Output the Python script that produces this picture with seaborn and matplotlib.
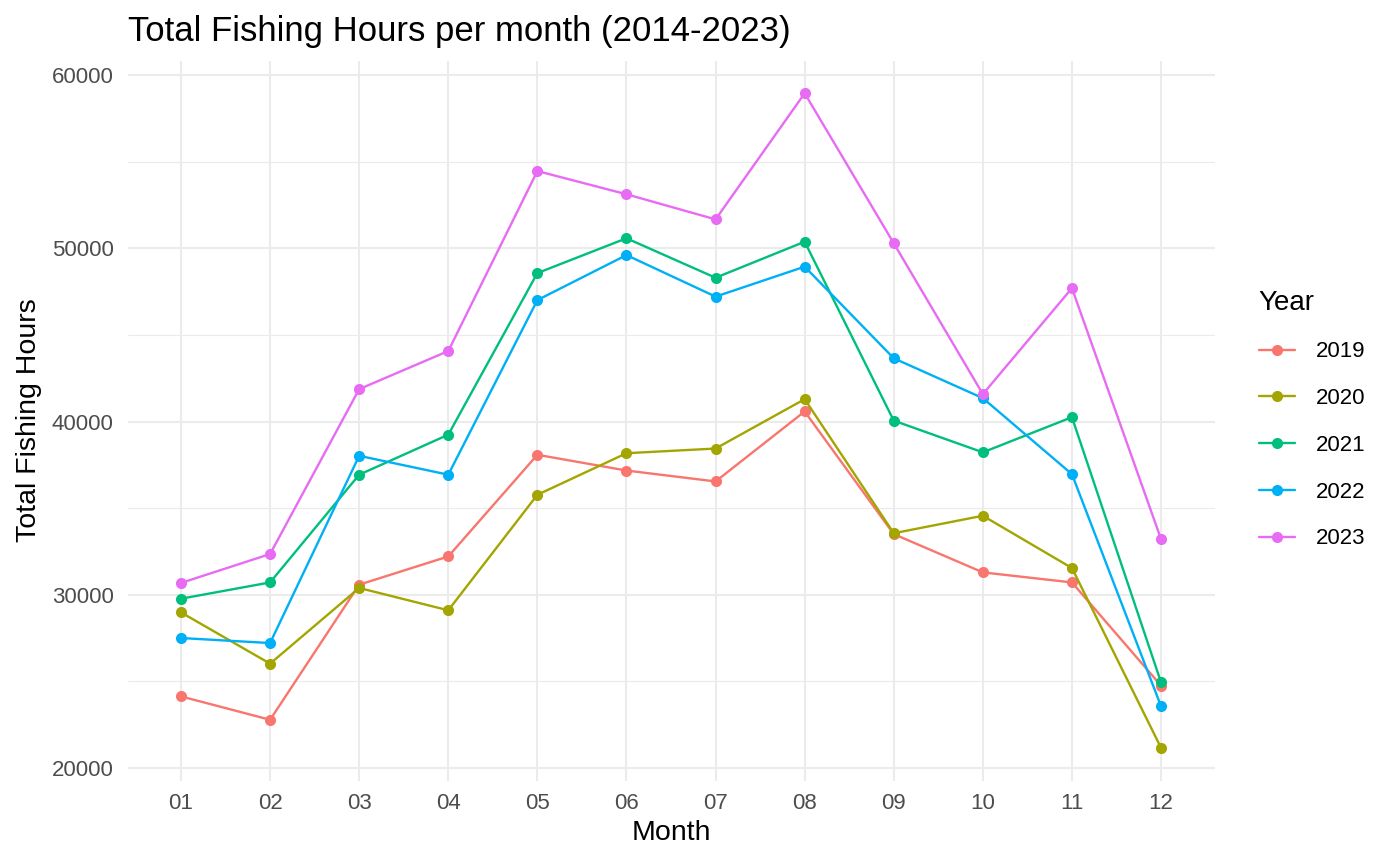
import matplotlib
matplotlib.use("Agg")
import matplotlib.pyplot as plt
import seaborn as sns
import pandas as pd

#----------------- Datos -----------------------------------------
months = ['01', '02', '03', '04', '05', '06', '07', '08', '09', '10', '11', '12']
years = ['2019', '2020', '2021', '2022', '2023']

hours_2019 = [24130, 22780, 30580, 32210, 38080, 37170, 36540, 40580, 33500, 31290, 30710, 24750]
hours_2020 = [28980, 26020, 30390, 29100, 35770, 38170, 38440, 41290, 33550, 34560, 31540, 21160]
hours_2021 = [29770, 30710, 36930, 39240, 48570, 50580, 48300, 50380, 40050, 38220, 40250, 24940]
hours_2022 = [27500, 27210, 38020, 36930, 47010, 49610, 47210, 48940, 43650, 41350, 36960, 23560]
hours_2023 = [30680, 32350, 41870, 44070, 54460, 53120, 51670, 58950, 50290, 41580, 47700, 33210]

colores = ['#F8766D', '#A3A500', '#00BF7D', '#00B0F6', '#E76BF3']

series = [hours_2019, hours_2020, hours_2021, hours_2022, hours_2023]
rows = []
for year, values in zip(years, series):
    for i, v in enumerate(values):
        rows.append({'Month': i + 1, 'Year': year, 'Hours': v})
df = pd.DataFrame(rows)

#----------------- Estilo tipo theme_minimal ----------------------
sns.set_theme(style="whitegrid")
plt.rcParams['font.family'] = ['Liberation Sans', 'DejaVu Sans']

fig = plt.figure(figsize=(14, 8.65), dpi=100)
ax = fig.add_axes([0.0911, 0.0976, 0.8675 - 0.0911, 0.930 - 0.0976])

sns.lineplot(data=df, x='Month', y='Hours', hue='Year', palette=colores,
             marker='o', markersize=8, markeredgewidth=0, linewidth=1.7, ax=ax)

ax.set_xlim(0.4, 12.6)
ax.set_ylim(19270, 60840)
ax.set_xticks(range(1, len(months) + 1))
ax.set_xticklabels(months)
ax.set_yticks([20000, 30000, 40000, 50000, 60000])
ax.set_yticks([25000, 35000, 45000, 55000], minor=True)

ax.set_facecolor('white')
for s in ax.spines.values():
    s.set_visible(False)
ax.grid(which='major', color='#EBEBEB', linewidth=1.5)
ax.grid(which='minor', axis='y', color='#EBEBEB', linewidth=0.8)
ax.tick_params(axis='both', which='both', length=0, labelsize=16, labelcolor='#4D4D4D')
ax.tick_params(axis='y', pad=10)
ax.tick_params(axis='x', pad=9)

ax.set_xlabel('Month', fontsize=20.5, color='black', labelpad=4)
ax.set_ylabel('Total Fishing Hours', fontsize=20.5, color='black', labelpad=7)
ax.set_title('Total Fishing Hours per month (2014-2023)', loc='left', fontsize=25,
             color='black', pad=14)

handles, labels = ax.get_legend_handles_labels()
leg = ax.legend(handles, labels, title='Year', loc='center left',
                bbox_to_anchor=(0.899, 0.515), bbox_transform=fig.transFigure,
                frameon=False, fontsize=16, title_fontsize=20,
                handlelength=1.62, handletextpad=0.95, labelspacing=1.16,
                borderpad=0, borderaxespad=0, labelcolor='black')
leg.get_title().set_color('black')
leg._legend_box.align = 'left'

fig.savefig('out.png', dpi=100, facecolor='white')
